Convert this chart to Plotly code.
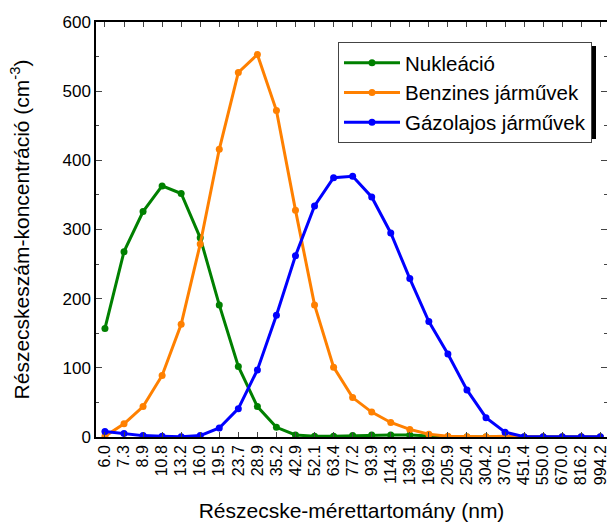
import plotly.graph_objects as go

categories = ["6.0", "7.3", "8.9", "10.8", "13.2", "16.0", "19.5", "23.7", "28.9", "35.2",
              "42.9", "52.1", "63.4", "77.2", "93.9", "114.3", "139.1", "169.2", "205.9",
              "250.4", "304.2", "370.5", "451.4", "550.0", "670.0", "816.2", "994.2"]

nukleacio = [157, 268, 326, 363, 352, 288, 191, 102, 44, 14,
             3, 1, 1, 2, 3, 3, 3, 1, 0, 0, 0, 0, 0, 0, 0, 0, 0]
benzines = [1, 19, 44, 89, 163, 279, 416, 527, 553, 472,
            328, 191, 101, 57, 36, 21, 11, 4, 1, 0.5, 0.5, 1, 0, 0, 0, 0, 0]
gazolajos = [8, 5, 2, 1, 0.5, 2, 13, 41, 97, 176,
             262, 334, 375, 377, 347, 295, 229, 167, 120, 68, 28, 7, 0.5, 0.3, 0.3, 0.3, 0.3]

series = [
    ("Nukleáció", nukleacio, "#008000"),
    ("Benzines járművek", benzines, "#FF8000"),
    ("Gázolajos járművek", gazolajos, "#0000FF"),
]

fig = go.Figure()
for name, vals, col in series:
    fig.add_trace(go.Scatter(
        x=categories, y=vals, name=name, mode="lines+markers",
        line=dict(color=col, width=3), marker=dict(color=col, size=7),
    ))

font_family = "Liberation Sans"

fig.update_layout(
    width=607, height=523,
    margin=dict(l=96, r=0, t=22, b=86),
    paper_bgcolor="white", plot_bgcolor="white",
    font=dict(family=font_family, color="black", size=16),
    showlegend=True,
    legend=dict(
        x=(338 - 96) / 511, y=(437 - 42) / 415, xanchor="left", yanchor="top",
        bgcolor="white", bordercolor="#444", borderwidth=1,
        font=dict(size=20.5, family=font_family),
        itemwidth=56, tracegroupgap=0,
    ),
    xaxis=dict(
        type="category", range=[-0.47, 26.35], automargin=False,
        tickangle=-90, ticks="inside", ticklen=5, tickwidth=1.2,
        showline=True, linecolor="black", linewidth=1.5, mirror="ticks",
        showgrid=False, zeroline=False,
        tickfont=dict(size=16),
        title=dict(text="Részecske-mérettartomány (nm)", font=dict(size=21), standoff=19),
    ),
    yaxis=dict(
        range=[0, 600], dtick=100, ticks="inside", ticklen=6, tickwidth=1.2,
        automargin=False,
        minor=dict(dtick=50, ticks="inside", ticklen=3, tickwidth=1),
        showline=True, linecolor="black", linewidth=1.5, mirror="ticks",
        showgrid=False, zeroline=False,
        tickfont=dict(size=17),
        title=dict(text="Részecskeszám-koncentráció (cm<sup>-3</sup>)", font=dict(size=21), standoff=27),
    ),
)

# legend drop shadow
fig.add_shape(type="rect", xref="paper", yref="paper",
              x0=(342 - 96) / 511, x1=(596 - 96) / 511,
              y0=(437 - 139) / 415, y1=(437 - 46) / 415,
              fillcolor="black", line=dict(width=0), layer="above")

fig.write_html(
    "out.html",
    config={"displayModeBar": False},
    post_script="document.body.style.margin='0';document.body.style.overflow='hidden';",
)
